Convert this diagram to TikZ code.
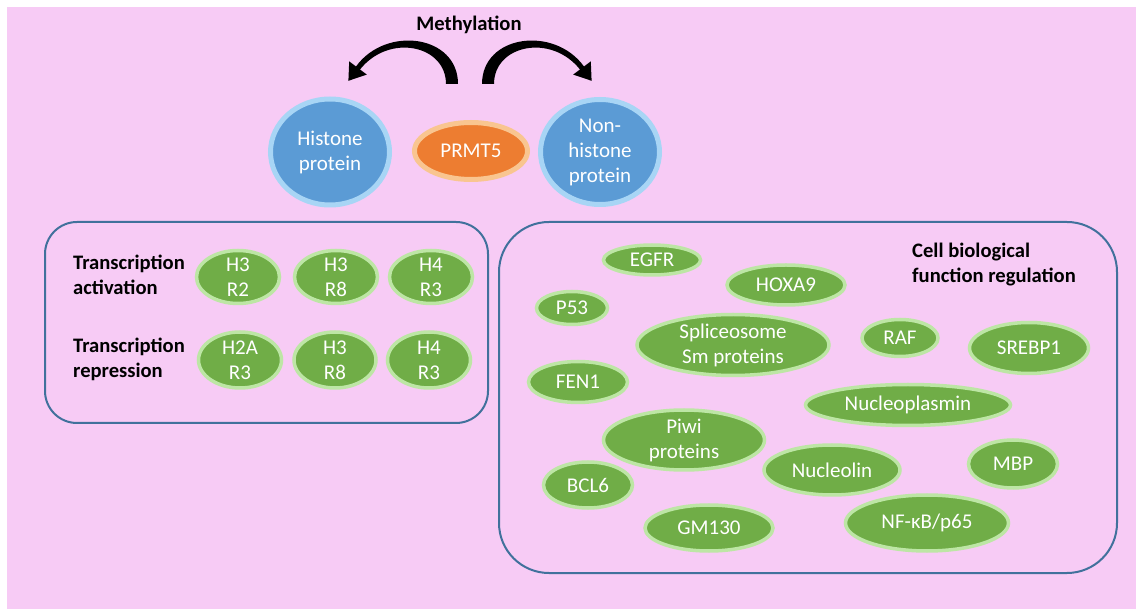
\documentclass[tikz,border=0pt]{standalone}
\usepackage{fontspec}
\setmainfont{Carlito}
\usetikzlibrary{shapes.geometric}
\definecolor{bgpink}{HTML}{F7CBF5}
\definecolor{bfill}{HTML}{5B9BD5}
\definecolor{bline}{HTML}{A8D5F5}
\definecolor{ofill}{HTML}{ED7D31}
\definecolor{oline}{HTML}{F9C590}
\definecolor{gfill}{HTML}{70AD47}
\definecolor{gline}{HTML}{BDE6A5}
\definecolor{boxline}{HTML}{41719C}
\tikzset{
  txt/.style={font=\fontsize{21}{25}\selectfont},
  bold/.style={font=\fontsize{20.6}{25}\selectfont\bfseries, align=left, inner sep=0pt},
  blob/.style={ellipse, txt, text=white, align=center, inner xsep=0pt, inner ysep=-5pt},
  gel/.style 2 args={blob, fill=gfill, draw=gline, line width=3.5pt, minimum width=#1, minimum height=#2},
  bel/.style 2 args={blob, fill=bfill, draw=bline, line width=5pt, minimum width=#1, minimum height=#2},
  oel/.style 2 args={blob, fill=ofill, draw=oline, line width=5pt, minimum width=#1, minimum height=#2},
  panel/.style={draw=boxline, line width=2pt, rectangle, inner sep=0pt},
  marrow/.style={fill=black}
}
\begin{document}
\begin{tikzpicture}[x=1pt,y=-1pt]
\useasboundingbox (0,0) rectangle (1136,609);
\fill[bgpink] (7,7) rectangle (1136,609);

% top
\node[bold] (meth) at (469,25) {Methylation};
\node[bel={119}{106}] (histone) at (330,152) {Histone\\protein};
\node[oel={113}{57}] (prmt) at (471,151) {PRMT5};
\node[bel={119}{105}] (nonhist) at (600,152) {Non-\\histone\\protein};

\fill[marrow] (458,84) .. controls (458,35) and (386,25) .. (356,66.5) -- (349.2,61.4) -- (348.4,80.8) -- (366.8,74.6) -- (360,69.5) .. controls (389,33) and (446,45) .. (446,84) -- cycle;
\fill[marrow] (482,84) .. controls (482,35) and (554,25) .. (584,66.5) -- (590.8,61.4) -- (591.6,80.8) -- (573.2,74.6) -- (580,69.5) .. controls (551,33) and (494,45) .. (494,84) -- cycle;

% left panel
\node[panel, rounded corners=32pt, minimum width=443, minimum height=201] (leftbox) at (266.5,322.5) {};
\node[bold, anchor=west] (act) at (73,274.5) {Transcription\\activation};
\node[bold, anchor=west] (rep) at (73,359.5) {Transcription\\repression};
\node[gel={83}{53}] (a1) at (238,277) {H3\\R2};
\node[gel={83}{53}] (a2) at (336,277) {H3\\R8};
\node[gel={83}{53}] (a3) at (431,277) {H4\\R3};
\node[gel={83}{56}] (r1) at (240,360) {H2A\\R3};
\node[gel={82}{56}] (r2) at (335,360) {H3\\R8};
\node[gel={83}{56}] (r3) at (429,360) {H4\\R3};

% right panel
\node[panel, rounded corners=50pt, minimum width=618, minimum height=351] (rightbox) at (808,397.5) {};
\node[bold, anchor=west] (cbf) at (912,264.5) {Cell biological\\function regulation};
\node[gel={97}{30}] (egfr) at (652,260) {EGFR};
\node[gel={118}{40}] (hoxa) at (786,285) {HOXA9};
\node[gel={71}{33}] (p53) at (572,308) {P53};
\node[gel={192}{61}] (splice) at (733,345) {Spliceosome\\Sm proteins};
\node[gel={76}{37}] (raf) at (900,338) {RAF};
\node[gel={119}{51}] (srebp) at (1029,348) {SREBP1};
\node[gel={99}{41}] (fen) at (578,382) {FEN1};
\node[gel={205}{41}] (nucp) at (908,405) {Nucleoplasmin};
\node[gel={161}{60}] (piwi) at (684,440) {Piwi\\proteins};
\node[gel={89}{46}] (bcl) at (588,485) {BCL6};
\node[gel={136}{50}] (nucl) at (832,470) {Nucleolin};
\node[gel={89}{48}] (mbp) at (1013,464) {MBP};
\node[gel={128}{46}] (gm) at (709,528) {GM130};
\node[gel={163}{56}] (nfkb) at (927,523) {NF-κB/p65};
\end{tikzpicture}
\end{document}
